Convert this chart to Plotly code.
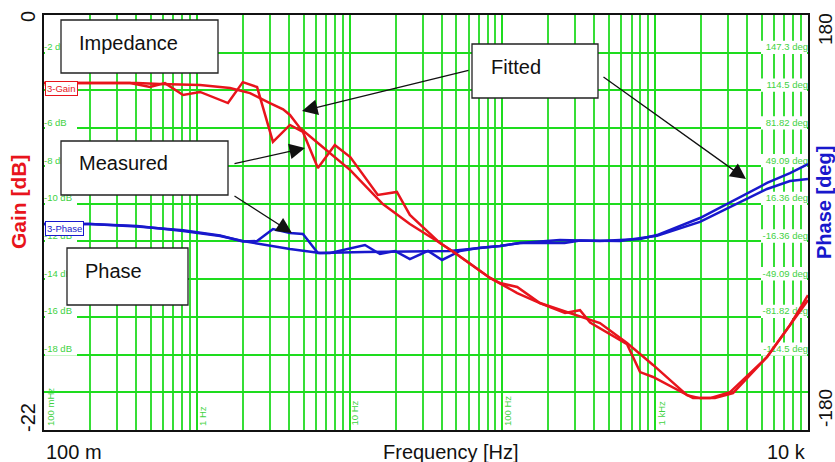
import plotly.graph_objects as go

# ---------------- data ----------------
freq_gain_fit = [0.1, 0.406, 0.574, 1.05, 1.65, 2.23, 3.01, 3.67, 4.07, 4.73, 6.2, 10.1, 16.5, 21.4,
                 24.8, 39.1, 49.0, 83.0, 125, 176, 265, 435, 654, 968, 1615, 1963, 2460, 3230, 5395,
                 7620, 10000]
gain_fit = [-3.61, -3.61, -3.66, -3.71, -3.87, -4.14, -4.67, -5.0, -5.3, -5.99, -6.79, -8.22, -10.02,
            -10.71, -11.08, -12.09, -12.62, -13.94, -14.74, -15.27, -15.75, -16.33, -17.39, -18.55,
            -20.15, -20.31, -20.31, -20.04, -18.13, -16.44, -14.85]

freq_gain_meas = [0.1, 0.366, 0.494, 0.619, 0.813, 1.05, 1.60, 2.0, 2.48, 3.15, 4.07, 4.95, 6.2, 8.0,
                  10.1, 15.3, 20.4, 24.8, 39.1, 49.0, 83.0, 96.4, 125, 176, 257, 322, 375, 654, 796,
                  968, 1767, 2284, 3090, 5395, 10000]
gain_meas = [-3.61, -3.61, -3.82, -3.61, -4.24, -4.08, -4.67, -3.56, -3.82, -6.73, -5.83, -6.20, -8.11,
             -6.89, -7.53, -9.54, -9.38, -10.60, -12.09, -12.62, -13.94, -14.21, -14.42, -15.27,
             -15.80, -15.65, -16.30, -17.45, -18.93, -19.19, -20.31, -20.31, -19.99, -18.13, -15.11]

freq_phase_fit = [0.1, 0.2, 0.406, 0.813, 1.42, 2.0, 4.07, 6.4, 12.6, 45.4, 96.4, 130, 238, 435, 796,
                  1028, 1963, 3090, 5395, 7620, 10000]
phase_fit = [-1.3, -1.3, -3.0, -7.4, -11.7, -16.1, -23.0, -26.5, -25.6, -24.7, -20.4, -17.8, -15.2,
             -16.1, -14.3, -10.9, 3.9, 17.8, 34.3, 42.9, 50.7]

freq_phase_meas = [0.1, 0.2, 0.406, 0.813, 1.42, 2.0, 2.48, 3.15, 4.07, 4.95, 6.2, 7.45, 12.6, 15.8,
                   19.8, 24.8, 32.6, 40.3, 52.8, 71.3, 96.4, 130, 255, 322, 589, 1028, 1963, 3090,
                   5395, 7620, 10000]
phase_meas = [-1.3, -1.3, -3.5, -6.8, -11.3, -16.5, -16.1, -5.7, -9.1, -10.0, -26.5, -26.5, -19.5,
              -27.3, -24.7, -31.7, -24.7, -32.5, -24.7, -22.0, -20.4, -17.8, -17.8, -15.6, -16.1,
              -11.5, 0.5, 13.4, 29.1, 36.0, 37.7]

gain_grid_vals = [-2, -4, -6, -8, -10, -12, -14, -16, -18]
gain_grid_text = ["-2 dB", "-4 dB", "-6 dB", "-8 dB", "-10 dB", "-12 dB", "-14 dB", "-16 dB", "-18 dB"]
phase_grid_vals = [147.27, 114.55, 81.82, 49.09, 16.36, -16.36, -49.09, -81.82, -114.55]
phase_grid_text = ["147.3 deg", "114.5 deg", "81.82 deg", "49.09 deg", "16.36 deg", "-16.36 deg",
                   "-49.09 deg", "-81.82 deg", "-114.5 deg"]
freq_grid_vals = [0.1, 1, 10, 100, 1000]
freq_grid_text = ["100 mHz", "1 Hz", "10 Hz", "100 Hz", "1 kHz"]
decades = [0.1, 1, 10, 100, 1000, 10000]
minor_vals = [m * d for d in [0.1, 1, 10, 100, 1000] for m in range(2, 10)]

# ---------------- geometry helpers ----------------
L, T, W, H = 44, 15, 764, 415
PX_PER_DEC = W / 5.0
def px(x):
    return (x - L) / W
def py(y):
    return (T + H - y) / H

RED = "#e8141c"
BLUE = "#1818cc"
GREEN = "#1edc1e"
LGREEN = "#3fd23f"
FONT = "Liberation Sans"

fig = go.Figure()

# white label backgrounds (above grid, below data) built from the label values
def bg_rects(vals, x_lo_px, x_hi_px, left, unit_per_px):
    xs, ys = [], []
    for v in vals:
        if left:
            xa = 10 ** (-1 + x_lo_px / PX_PER_DEC)
            xb = 10 ** (-1 + x_hi_px / PX_PER_DEC)
        else:
            xa = 10 ** (4 - x_hi_px / PX_PER_DEC)
            xb = 10 ** (4 - x_lo_px / PX_PER_DEC)
        ya = v - 1.3 * unit_per_px
        yb = v + 12 * unit_per_px
        xs += [xa, xb, xb, xa, xa, None]
        ys += [ya, ya, yb, yb, ya, None]
    return xs, ys

# ---- base subplot: phase (y) ----
phx, phy = bg_rects(phase_grid_vals, 1, 47, False, 360 / H)
fig.add_trace(go.Scatter(x=phx, y=phy, mode="lines", fill="toself", fillcolor="white", yaxis="y",
                         line=dict(width=0, color="white"), hoverinfo="skip", showlegend=False))
fig.add_trace(go.Scatter(x=[10000] * len(phase_grid_vals), y=phase_grid_vals, mode="text",
                         text=phase_grid_text, textposition="top left", cliponaxis=False,
                         textfont=dict(size=9.5, color=LGREEN, family=FONT), hoverinfo="skip",
                         showlegend=False, yaxis="y"))
fig.add_trace(go.Scatter(x=freq_phase_fit, y=phase_fit, mode="lines", yaxis="y",
                         line=dict(color=BLUE, width=2.5), showlegend=False))
fig.add_trace(go.Scatter(x=freq_phase_meas, y=phase_meas, mode="lines", yaxis="y",
                         line=dict(color=BLUE, width=2.5), showlegend=False))

# ---- overlay subplot: gain (y2) ----
gx, gy = bg_rects(gain_grid_vals, 1, 33, True, 22 / H)
fig.add_trace(go.Scatter(x=gx, y=gy, mode="lines", fill="toself", fillcolor="white", yaxis="y2",
                         line=dict(width=0, color="white"), hoverinfo="skip", showlegend=False))
fig.add_trace(go.Scatter(x=[0.1] * len(gain_grid_vals), y=gain_grid_vals, mode="text",
                         text=gain_grid_text, textposition="top right", cliponaxis=False,
                         textfont=dict(size=9.5, color=LGREEN, family=FONT), hoverinfo="skip",
                         showlegend=False, yaxis="y2"))
fig.add_trace(go.Scatter(x=freq_gain_fit, y=gain_fit, mode="lines", yaxis="y2",
                         line=dict(color=RED, width=2.5), showlegend=False))
fig.add_trace(go.Scatter(x=freq_gain_meas, y=gain_meas, mode="lines", yaxis="y2",
                         line=dict(color=RED, width=2.5), showlegend=False))

shapes = []
# text boxes
boxes = [
    ("Impedance", 61, 20, 218, 73, 77, 43),
    ("Measured", 61, 141, 228, 195, 77, 163),
    ("Phase", 67, 248, 188, 305, 83, 271),
    ("Fitted", 472, 44, 598, 98, 489, 67),
]
annotations = []
for txt, x0, y0, x1, y1, tx, ty in boxes:
    shapes.append(dict(type="rect", xref="paper", yref="paper", layer="above",
                       x0=px(x0), x1=px(x1), y0=py(y1), y1=py(y0),
                       fillcolor="white", line=dict(color="#222222", width=1.3)))
    annotations.append(dict(text=txt, xref="paper", yref="paper", x=px(tx), y=py(ty),
                            xanchor="left", yanchor="middle", showarrow=False,
                            font=dict(size=20, color="#111111", family=FONT)))

# arrows (tip, tail) in pixels
arrows = [((302, 111), (470, 70)),
          ((305, 148), (233, 164)),
          ((292, 233), (233, 195)),
          ((746, 179), (602, 76))]
for (hx, hy), (tx, ty) in arrows:
    annotations.append(dict(text="", xref="paper", yref="paper", x=px(hx), y=py(hy),
                            ax=tx - hx, ay=ty - hy, showarrow=True, arrowhead=2,
                            arrowsize=2.4, arrowwidth=1.3, arrowcolor="#111111", standoff=0))

# trace tags
annotations.append(dict(text="3-Gain", xref="paper", yref="paper", x=px(45), y=py(88.5),
                        xanchor="left", yanchor="middle", showarrow=False, bgcolor="white",
                        bordercolor=RED, borderwidth=1, borderpad=1,
                        font=dict(size=9.5, color=RED, family=FONT)))
annotations.append(dict(text="3-Phase", xref="paper", yref="paper", x=px(45), y=py(229),
                        xanchor="left", yanchor="middle", showarrow=False, bgcolor="white",
                        bordercolor=BLUE, borderwidth=1, borderpad=1,
                        font=dict(size=9.5, color=BLUE, family=FONT)))

# vertical frequency labels inside plot
for xv, t in zip([50, 202, 354, 507, 661], freq_grid_text):
    annotations.append(dict(text=t, xref="paper", yref="paper", x=px(xv), y=py(428),
                            xanchor="center", yanchor="bottom", textangle=-90, showarrow=False,
                            font=dict(size=9.5, color=LGREEN, family=FONT)))

# outside labels
outside = [
    ("0", 28, 17, "#111111", 20, False),
    ("-22", 28, 418, "#111111", 20, False),
    ("180", 825, 29, "#111111", 19, False),
    ("-180", 825, 408, "#111111", 19, False),
    ("Gain [dB]", 18, 202, RED, 21, True),
    ("Phase [deg]", 824, 203, BLUE, 20, True),
]
for t, x, y, c, s, b in outside:
    annotations.append(dict(text=f"<b>{t}</b>" if b else t, xref="paper", yref="paper",
                            x=px(x), y=py(y), xanchor="center", yanchor="middle",
                            textangle=-90, showarrow=False,
                            font=dict(size=s, color=c, family=FONT)))
annotations.append(dict(text="100 m", xref="paper", yref="paper", x=px(44), y=py(452),
                        xanchor="left", yanchor="middle", showarrow=False,
                        font=dict(size=20, color="#111111", family=FONT)))
annotations.append(dict(text="10 k", xref="paper", yref="paper", x=px(808), y=py(452),
                        xanchor="right", yanchor="middle", showarrow=False,
                        font=dict(size=20, color="#111111", family=FONT)))
annotations.append(dict(text="Frequency [Hz]", xref="paper", yref="paper", x=px(451), y=py(452),
                        xanchor="center", yanchor="middle", showarrow=False,
                        font=dict(size=20, color="#111111", family=FONT)))

fig.update_layout(
    template="none",
    width=835, height=462,
    margin=dict(l=L, r=835 - L - W, t=T, b=462 - T - H),
    paper_bgcolor="white", plot_bgcolor="white",
    showlegend=False,
    xaxis=dict(type="log", range=[-1, 4], tickmode="array", tickvals=decades,
               showticklabels=False, ticks="", showgrid=True, gridcolor=GREEN, gridwidth=2,
               zeroline=False, showline=True, mirror=True, linecolor="#111111", linewidth=2,
               minor=dict(tickmode="array", tickvals=minor_vals, showgrid=True,
                          gridcolor="#36de36", gridwidth=1.6, ticks="")),
    yaxis=dict(range=[-180, 180], showgrid=False, showticklabels=False, ticks="",
               zeroline=False, showline=True, mirror=True, linecolor="#111111", linewidth=2),
    yaxis2=dict(range=[-22, 0], overlaying="y", side="left", tick0=0, dtick=2,
                showticklabels=False, ticks="", showgrid=True, gridcolor=GREEN, gridwidth=2,
                zeroline=False, showline=False),
    shapes=shapes,
    annotations=annotations,
)

fig.write_html("out.html", config={"displayModeBar": False},
               post_script="document.body.style.margin='0px';document.body.style.overflow='hidden';")
